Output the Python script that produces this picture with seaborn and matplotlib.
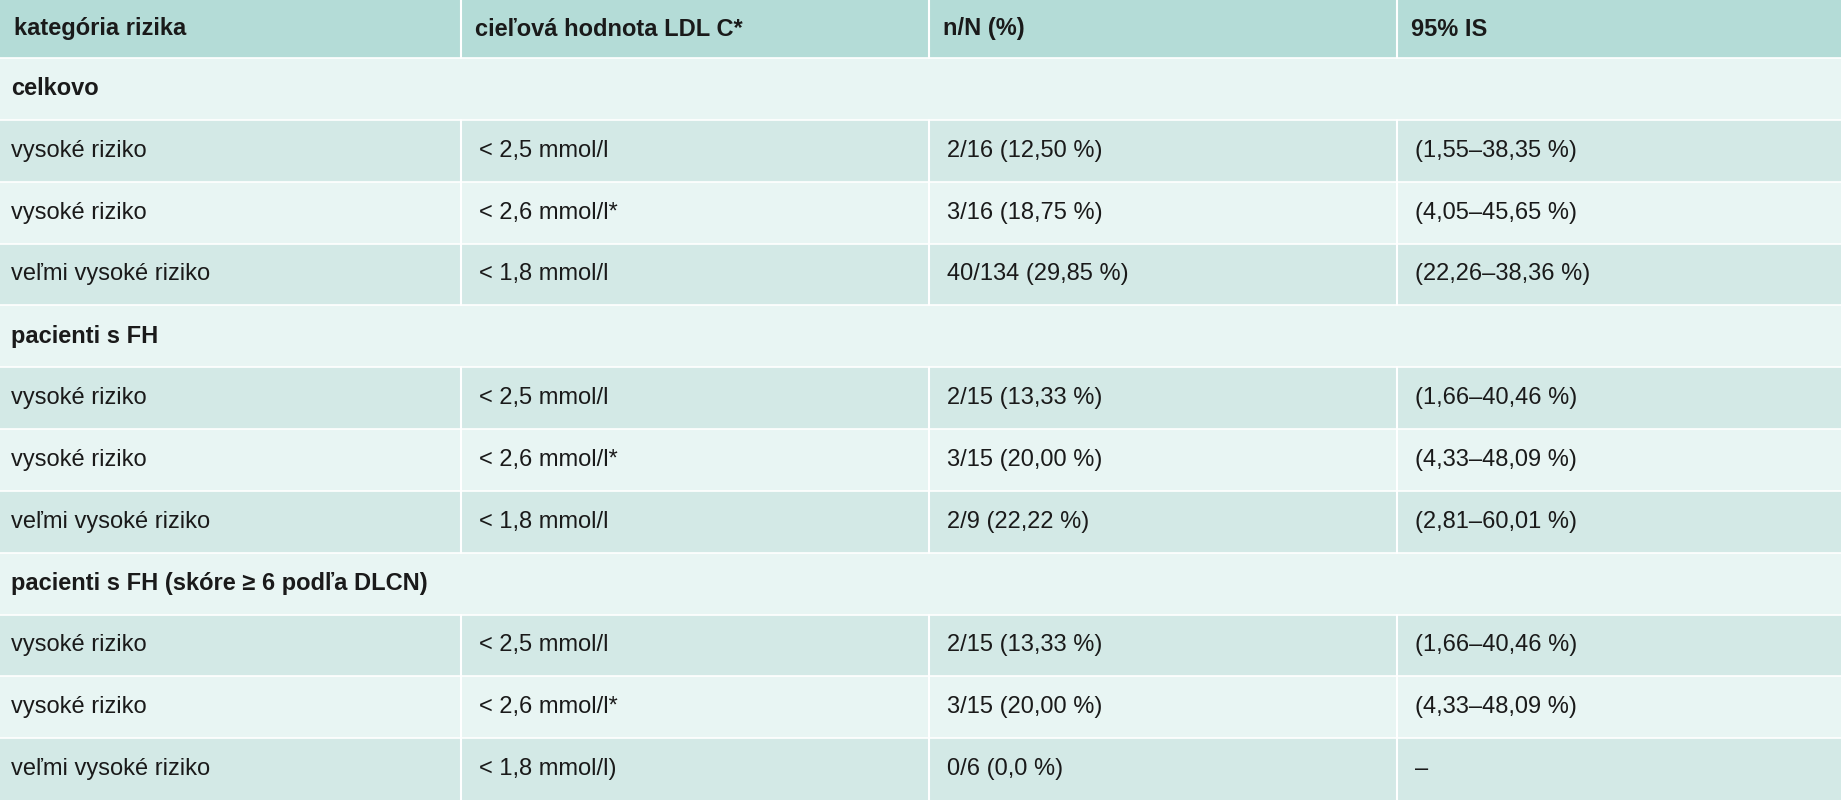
import matplotlib
matplotlib.use("Agg")
import matplotlib.pyplot as plt
import seaborn as sns
import numpy as np

headers = ["kategória rizika", "cieľová hodnota LDL C*", "n/N (%)", "95% IS"]
col1 = ["celkovo", "vysoké riziko", "vysoké riziko", "veľmi vysoké riziko",
        "pacienti s FH", "vysoké riziko", "vysoké riziko", "veľmi vysoké riziko",
        "pacienti s FH (skóre ≥ 6 podľa DLCN)", "vysoké riziko", "vysoké riziko", "veľmi vysoké riziko"]
col2 = ["", "< 2,5 mmol/l", "< 2,6 mmol/l*", "< 1,8 mmol/l",
        "", "< 2,5 mmol/l", "< 2,6 mmol/l*", "< 1,8 mmol/l",
        "", "< 2,5 mmol/l", "< 2,6 mmol/l*", "< 1,8 mmol/l)"]
col3 = ["", "2/16 (12,50 %)", "3/16 (18,75 %)", "40/134 (29,85 %)",
        "", "2/15 (13,33 %)", "3/15 (20,00 %)", "2/9 (22,22 %)",
        "", "2/15 (13,33 %)", "3/15 (20,00 %)", "0/6 (0,0 %)"]
col4 = ["", "(1,55–38,35 %)", "(4,05–45,65 %)", "(22,26–38,36 %)",
        "", "(1,66–40,46 %)", "(4,33–48,09 %)", "(2,81–60,01 %)",
        "", "(1,66–40,46 %)", "(4,33–48,09 %)", "–"]
section_rows = [0, 4, 8]

sns.set_theme(style="white")
plt.rcParams['font.family'] = ['Liberation Sans Narrow', 'Liberation Sans', 'DejaVu Sans']

W, H = 1841, 800
fig = plt.figure(figsize=(W / 100, H / 100), dpi=100)
ax = fig.add_axes([0, 0, 1, 1])
ax.set_xlim(0, W)
ax.set_ylim(H, 0)
ax.axis("off")

header_h = 58
row_h = (H - header_h) / len(col1)
col_x = [0, 461, 929, 1397, W]
light, dark, head = "#e8f5f3", "#d3e9e6", "#b4dcd7"

ax.axhspan(0, header_h, color=head, lw=0)
for i in range(len(col1)):
    y0 = header_h + i * row_h
    ax.axhspan(y0, y0 + row_h, color=light if i % 2 == 0 else dark, lw=0)
    if i > 0:
        ax.axhline(y0, color="white", lw=1.2)
ax.axhline(header_h, color="white", lw=1.2)

for j, h in enumerate(headers):
    ax.text(col_x[j] + 14, header_h / 2, h, va="center", ha="left",
            fontsize=17, fontweight="bold", color="#1a1a1a")
    if j > 0:
        ax.plot([col_x[j]] * 2, [0, header_h], color="white", lw=1.5)

cols = [col1, col2, col3, col4]
for i in range(len(col1)):
    yc = header_h + (i + 0.5) * row_h
    if i in section_rows:
        ax.text(col_x[0] + 11, yc, col1[i], va="center", ha="left",
                fontsize=17, fontweight="bold", color="#1a1a1a")
        continue
    for j in range(4):
        ax.text(col_x[j] + (11 if j == 0 else 18), yc, cols[j][i], va="center",
                ha="left", fontsize=17, color="#1a1a1a")
    for j in range(1, 4):
        ax.plot([col_x[j]] * 2, [header_h + i * row_h, header_h + (i + 1) * row_h],
                color="white", lw=1.5)

fig.savefig("out.png", dpi=100)
